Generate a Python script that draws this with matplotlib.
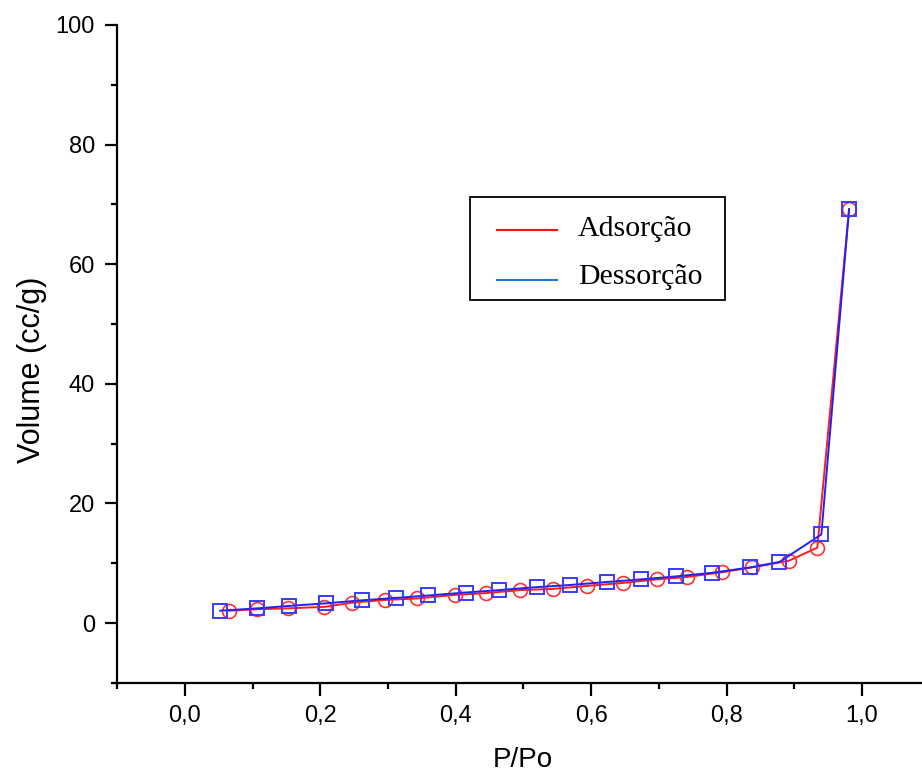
import matplotlib
matplotlib.use("Agg")
import matplotlib.pyplot as plt
from matplotlib.lines import Line2D
from matplotlib.patches import Rectangle
from matplotlib.ticker import MultipleLocator, FuncFormatter

# Data
ads_x = [0.065, 0.107, 0.152, 0.206, 0.247, 0.295, 0.343, 0.399, 0.445, 0.495,
         0.543, 0.594, 0.647, 0.697, 0.742, 0.794, 0.838, 0.892, 0.934, 0.981]
ads_y = [2.06, 2.3, 2.45, 2.7, 3.4, 3.85, 4.1, 4.7, 5.0, 5.5,
         5.7, 6.2, 6.7, 7.3, 7.7, 8.5, 9.3, 10.4, 12.6, 69.2]
des_x = [0.052, 0.107, 0.153, 0.209, 0.262, 0.312, 0.359, 0.415, 0.464, 0.520,
         0.568, 0.623, 0.674, 0.726, 0.779, 0.835, 0.878, 0.940, 0.981]
des_y = [2.06, 2.45, 2.85, 3.3, 3.8, 4.2, 4.6, 5.1, 5.5, 6.0,
         6.35, 6.85, 7.3, 7.8, 8.4, 9.3, 10.2, 14.8, 69.2]
legend_labels = ["Adsorção", "Dessorção"]
legend_colors = ["#ff1010", "#1f78d4"]

fig = plt.figure(figsize=(9.22, 7.76), dpi=100)
ax = fig.add_axes([0.1272, 0.1201, 0.8811, 0.8477])

ax.plot(ads_x, ads_y, color="#ff1a1a", lw=1.4, marker="o", markersize=10,
        markerfacecolor="none", markeredgecolor="#ff3030", markeredgewidth=1.2)
ax.plot(des_x, des_y, color="#2020ff", lw=1.4, marker="s", markersize=10,
        markerfacecolor="none", markeredgecolor="#3a3aff", markeredgewidth=1.4)

ax.set_xlim(-0.1, 1.1)
ax.set_ylim(-10, 100)
ax.xaxis.set_major_locator(MultipleLocator(0.2))
ax.xaxis.set_minor_locator(MultipleLocator(0.1))
ax.yaxis.set_major_locator(MultipleLocator(20))
ax.yaxis.set_minor_locator(MultipleLocator(10))
ax.xaxis.set_major_formatter(FuncFormatter(lambda v, p: f"{v:.1f}".replace(".", ",")))
ax.yaxis.set_major_formatter(FuncFormatter(lambda v, p: f"{v:.0f}"))

for s in ["top", "right"]:
    ax.spines[s].set_visible(False)
for s in ["left", "bottom"]:
    ax.spines[s].set_linewidth(1.6)

ax.tick_params(which="major", direction="out", length=9, width=1.6,
               labelsize=17, pad=7)
ax.tick_params(which="minor", direction="out", length=4.5, width=1.6)
for lab in ax.get_xticklabels() + ax.get_yticklabels():
    lab.set_family("Liberation Sans")

ax.set_xlabel("P/Po", fontsize=20, family="Liberation Sans")
ax.set_ylabel("Volume (cc/g)", fontsize=22, family="Liberation Sans")
ax.xaxis.set_label_coords(0.4988, -0.097)
ax.yaxis.set_label_coords(-0.087, 0.4755)

# Legend box (drawn in figure pixel-fraction coordinates)
W, H = 922.0, 776.0
fig.patches.append(Rectangle((470 / W, 1 - 300 / H), 255 / W, 103 / H,
                             transform=fig.transFigure, fill=False,
                             edgecolor="black", linewidth=1.3))
row_line_y = [230, 279.5]
row_text_y = [236, 284]
for i, (lab, col) in enumerate(zip(legend_labels, legend_colors)):
    fig.lines.append(Line2D([497 / W, 557 / W],
                            [1 - row_line_y[i] / H, 1 - row_line_y[i] / H],
                            transform=fig.transFigure, color=col, lw=1.5))
    fig.text(578 / W, 1 - row_text_y[i] / H, lab, fontsize=21.5,
             family="Liberation Serif", ha="left", va="baseline")

fig.savefig("out.png", dpi=100)
